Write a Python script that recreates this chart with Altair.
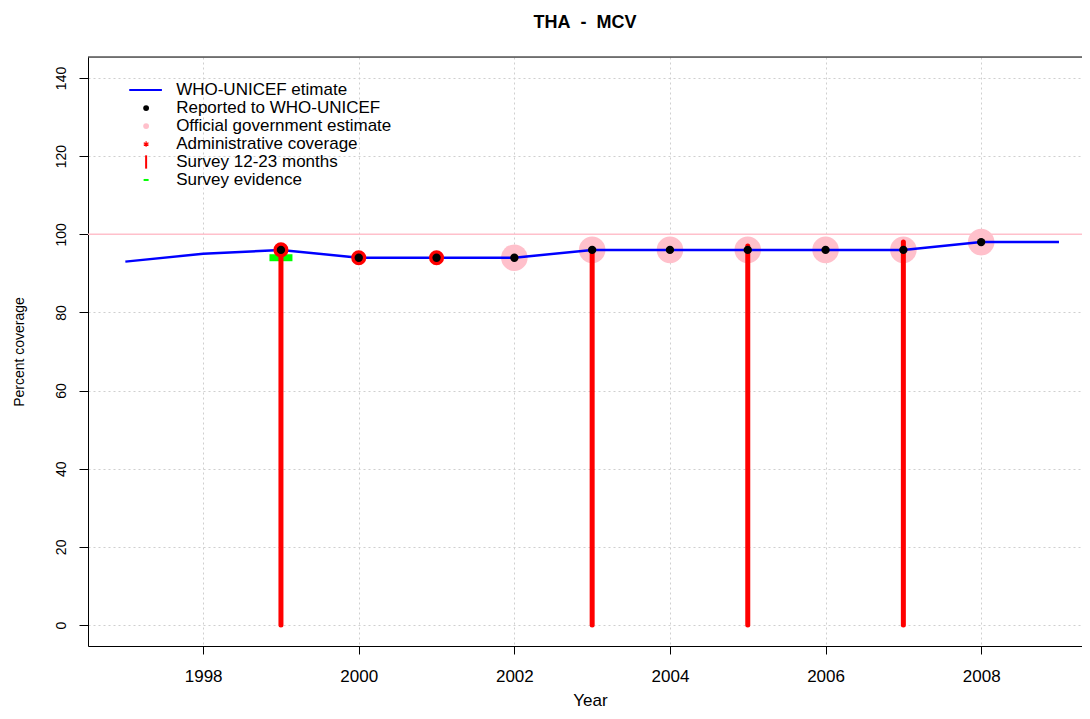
import altair as alt
import pandas as pd

# ---- data ----
est_years = [1997, 1998, 1999, 2000, 2001, 2002, 2003, 2004, 2005, 2006, 2007, 2008, 2009]
who_unicef = [93, 95, 96, 94, 94, 94, 96, 96, 96, 96, 96, 98, 98]

rep_years = [1999, 2000, 2001, 2002, 2003, 2004, 2005, 2006, 2007, 2008]
reported = [96, 94, 94, 94, 96, 96, 96, 96, 96, 98]

off_years = [2002, 2003, 2004, 2005, 2006, 2007, 2008]
official = [94, 96, 96, 96, 96, 96, 98]

adm_years = [1999, 2000, 2001]
admin = [96, 94, 94]

srv_years = [1999, 2003, 2005, 2007]
survey = [96, 96, 97, 98]

evid_years = [1999]
evidence = [94]

target_value = [100]

x_ticks = [1998, 2000, 2002, 2004, 2006, 2008]
y_ticks = [0, 20, 40, 60, 80, 100, 120, 140]

legend_labels = [
    "WHO-UNICEF etimate",
    "Reported to WHO-UNICEF",
    "Official government estimate",
    "Administrative coverage",
    "Survey 12-23 months",
    "Survey evidence",
]

TITLE = "THA\u00a0\u00a0-\u00a0\u00a0MCV"
FONT = "Liberation Sans"
W, H = 994, 589

# ---- scales / axes ----
xs = alt.Scale(domain=[1996.52, 2009.296], nice=False, zero=False)
ys = alt.Scale(domain=[-5.37, 145.37], nice=False, zero=False)

x_axis = alt.Axis(
    values=x_ticks, format="d", title="Year", grid=True,
    gridColor="#cfcfcf", gridDash=[2, 3], gridWidth=1,
    domain=True, domainColor="black", domainWidth=1,
    ticks=True, tickSize=8, tickColor="black",
    labelFont=FONT, labelFontSize=17, labelColor="black",
    labelBaseline="middle", labelPadding=22, labelFlush=False,
    titleFont=FONT, titleFontSize=17, titleFontWeight="normal", titleColor="black",
    titleX=502, titleY=54, titleBaseline="middle", titleAlign="center",
)
y_axis = alt.Axis(
    values=y_ticks, format="d", title="Percent coverage", grid=True,
    gridColor="#cfcfcf", gridDash=[2, 3], gridWidth=1,
    domain=True, domainColor="black", domainWidth=1,
    ticks=True, tickSize=9, tickColor="black",
    labelFont=FONT, labelFontSize=14, labelColor="black",
    labelAngle=270, labelAlign="center", labelBaseline="middle",
    labelPadding=18, labelFlush=False,
    titleFont=FONT, titleFontSize=14, titleFontWeight="normal", titleColor="black",
    titleAngle=270, titleX=-69, titleY=294.5, titleBaseline="middle", titleAlign="center",
)

X = alt.X("x:Q", scale=xs, axis=x_axis)
Y = alt.Y("y:Q", scale=ys, axis=y_axis)

# ---- tables ----
est_df = pd.DataFrame({"x": est_years, "y": who_unicef})
rep_df = pd.DataFrame({"x": rep_years, "y": reported})
off_df = pd.DataFrame({"x": off_years, "y": official})
adm_df = pd.DataFrame({"x": adm_years, "y": admin})
srv_df = pd.DataFrame({"x": srv_years, "y": [0] * len(srv_years), "y2": survey})
evid_df = pd.DataFrame({"x": evid_years, "y": evidence})
tgt_df = pd.DataFrame({"y": target_value})

# top frame line (plot frame is open on the right, as in the reference crop)
top_frame = alt.Chart(tgt_df).mark_rule(color="black", strokeWidth=1).encode(
    x=alt.value(0), x2=alt.value(W), y=alt.value(0)
)

target = alt.Chart(tgt_df).mark_rule(color="#FFC0CB", strokeWidth=1.5).encode(y=Y)
off_layer = alt.Chart(off_df).mark_circle(color="#FFC0CB", opacity=1, size=707).encode(x=X, y=Y)
est_layer = alt.Chart(est_df).mark_line(color="#0000FF", strokeWidth=2.5).encode(x=X, y=Y)
evid_layer = alt.Chart(evid_df).mark_tick(
    color="#00FF00", orient="horizontal", size=23, thickness=7, opacity=1
).encode(x=X, y=Y)
adm_layer = alt.Chart(adm_df).mark_circle(color="#FF0000", opacity=1, size=227).encode(x=X, y=Y)
srv_layer = alt.Chart(srv_df).mark_rule(
    color="#FF0000", strokeWidth=5, strokeCap="round"
).encode(x=X, y=Y, y2=alt.Y2("y2:Q"))
rep_layer = alt.Chart(rep_df).mark_circle(color="black", opacity=1, size=70).encode(x=X, y=Y)

# ---- legend (placed through the chart's own scales) ----
row0, step = 136.9, 4.6
sym_x, txt_x = 1997.267, 1997.653
rows = [row0 - i * step for i in range(len(legend_labels))]

leg_text = alt.Chart(pd.DataFrame({"x": [txt_x] * 6, "y": rows, "t": legend_labels})).mark_text(
    align="left", baseline="middle", font=FONT, fontSize=17, color="black"
).encode(x=X, y=Y, text="t:N")

leg_line = alt.Chart(pd.DataFrame({"x": [1997.05], "x2": [1997.47], "y": [rows[0]]})).mark_rule(
    color="#0000FF", strokeWidth=2
).encode(x=X, x2=alt.X2("x2:Q"), y=Y)
leg_rep = alt.Chart(pd.DataFrame({"x": [sym_x], "y": [rows[1]]})).mark_circle(
    color="black", opacity=1, size=34
).encode(x=X, y=Y)
leg_off = alt.Chart(pd.DataFrame({"x": [sym_x], "y": [rows[2]]})).mark_circle(
    color="#FFC0CB", opacity=1, size=34
).encode(x=X, y=Y)
leg_adm = alt.Chart(pd.DataFrame({"x": [sym_x], "y": [rows[3]]})).mark_point(
    shape="M0,-1L0,1M-0.87,-0.5L0.87,0.5M-0.87,0.5L0.87,-0.5",
    filled=False, color="#FF0000", strokeWidth=1.2, size=30, opacity=1
).encode(x=X, y=Y)
leg_srv = alt.Chart(pd.DataFrame({"x": [sym_x], "y": [rows[4] + 1.7], "y2": [rows[4] - 1.7]})).mark_rule(
    color="#FF0000", strokeWidth=2
).encode(x=X, y=Y, y2=alt.Y2("y2:Q"))
leg_evid = alt.Chart(pd.DataFrame({"x": [sym_x], "y": [rows[5]]})).mark_tick(
    color="#00FF00", orient="horizontal", size=5, thickness=2, opacity=1
).encode(x=X, y=Y)

chart = alt.layer(
    top_frame, target, off_layer, est_layer, evid_layer, adm_layer, srv_layer, rep_layer,
    leg_line, leg_rep, leg_off, leg_adm, leg_srv, leg_evid, leg_text,
).properties(
    width=W,
    height=H,
    autosize=alt.AutoSizeParams(type="none"),
    padding={"left": 80, "top": 49, "right": 0, "bottom": 65},
    title=alt.TitleParams(
        TITLE, font=FONT, fontSize=18, fontWeight="bold", color="black",
        anchor="middle", baseline="alphabetic", offset=11,
    ),
).configure_view(
    stroke=None
).configure(background="white")

chart.save("out.html", embed_options={"renderer": "svg", "actions": False})
